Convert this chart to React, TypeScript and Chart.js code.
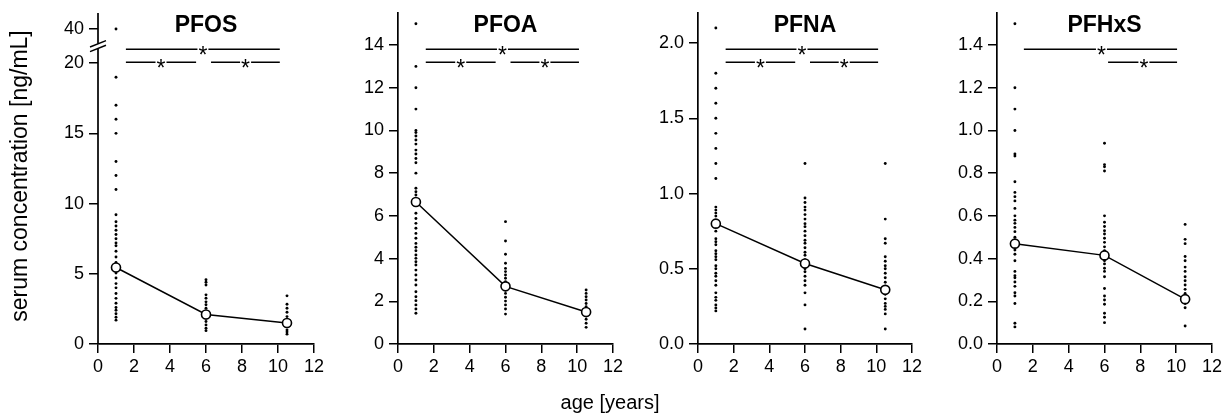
import React, { useEffect, useRef } from "react";
import { Chart, registerables } from "chart.js";
Chart.register(...registerables);

const FONT = '"Liberation Sans", Arial, Helvetica, sans-serif';

const TITLES = ["PFOS", "PFOA", "PFNA", "PFHxS"];
const AGES = [1, 6, 10.5];
const X_TICKS = [0, 2, 4, 6, 8, 10, 12];
const Y_TITLE = "serum concentration [ng/mL]";
const X_TITLE = "age [years]";

// PFOS (axis broken between 20 and 40)
const PFOS_AGE1 = [40, 19, 17, 16, 15, 13, 12, 11, 9.2, 8.7, 8.4, 8.1, 7.8, 7.5, 7.2, 7.0, 6.6, 6.2, 5.8, 5.6, 5.3, 5.05, 4.7, 4.3, 4.0, 3.6, 3.25, 2.9, 2.6, 2.4, 2.15, 1.9, 1.7];
const PFOS_AGE6 = [4.57, 4.4, 4.2, 3.5, 3.26, 3.0, 2.8, 2.55, 2.3, 2.2, 2.0, 1.83, 1.6, 1.36, 1.12, 0.95];
const PFOS_AGE10 = [3.43, 2.83, 2.55, 2.26, 1.95, 1.7, 1.4, 1.24, 1.0, 0.85, 0.7];
const PFOS_MEDIAN = [5.45, 2.1, 1.5];
const PFOS_Y_TICKS = [0, 5, 10, 15, 20, 40];
const PFOS_Y_LABELS = ["0", "5", "10", "15", "20", "40"];
const PFOS_BRACKETS = [[1.55, 10.1, 5.83, 21.0], [1.55, 5.45, 3.5, 20.07], [6.28, 10.1, 8.2, 20.07]];

// PFOA
const PFOA_AGE1 = [15, 13, 12, 11, 10, 9.9, 9.74, 9.55, 9.36, 9.08, 8.9, 8.69, 8.49, 8.0, 7.29, 7.13, 6.98, 6.82, 6.5, 6.12, 5.88, 5.65, 5.42, 5.18, 4.95, 4.71, 4.53, 4.37, 4.17, 4.01, 3.85, 3.7, 3.46, 3.23, 3.0, 2.76, 2.45, 2.21, 2.03, 1.83, 1.64, 1.44];
const PFOA_AGE6 = [5.73, 4.82, 4.2, 3.78, 3.54, 3.39, 3.23, 3.08, 2.92, 2.8, 2.6, 2.53, 2.37, 2.19, 2.01, 1.83, 1.64, 1.4];
const PFOA_AGE10 = [2.53, 2.37, 2.21, 2.06, 1.9, 1.75, 1.6, 1.4, 1.31, 1.16, 0.97, 0.78];
const PFOA_MEDIAN = [6.65, 2.7, 1.5];
const PFOA_Y_TICKS = [0, 2, 4, 6, 8, 10, 12, 14];
const PFOA_Y_LABELS = ["0", "2", "4", "6", "8", "10", "12", "14"];
const PFOA_BRACKETS = [[1.55, 10.1, 5.83, 13.81], [1.55, 5.45, 3.5, 13.2], [6.28, 10.1, 8.2, 13.2]];

// PFNA
const PFNA_AGE1 = [2.1, 1.8, 1.7, 1.6, 1.5, 1.4, 1.3, 1.2, 1.1, 0.91, 0.89, 0.87, 0.85, 0.82, 0.78, 0.75, 0.7, 0.68, 0.66, 0.62, 0.6, 0.58, 0.56, 0.52, 0.5, 0.47, 0.45, 0.42, 0.39, 0.34, 0.31, 0.29, 0.26, 0.24, 0.22];
const PFNA_AGE6 = [1.2, 0.97, 0.94, 0.91, 0.89, 0.86, 0.83, 0.8, 0.78, 0.75, 0.72, 0.69, 0.67, 0.64, 0.61, 0.59, 0.56, 0.52, 0.5, 0.48, 0.45, 0.42, 0.39, 0.34, 0.26, 0.1];
const PFNA_AGE10 = [1.2, 0.83, 0.7, 0.67, 0.58, 0.55, 0.52, 0.5, 0.47, 0.44, 0.41, 0.385, 0.33, 0.3, 0.27, 0.25, 0.23, 0.2, 0.1];
const PFNA_MEDIAN = [0.8, 0.535, 0.36];
const PFNA_Y_TICKS = [0, 0.5, 1.0, 1.5, 2.0];
const PFNA_Y_LABELS = ["0.0", "0.5", "1.0", "1.5", "2.0"];
const PFNA_BRACKETS = [[1.55, 10.1, 5.83, 1.96], [1.55, 5.45, 3.5, 1.874], [6.28, 10.1, 8.2, 1.874]];

// PFHxS
const PFHXS_AGE1 = [1.5, 1.2, 1.1, 1.0, 0.89, 0.88, 0.76, 0.71, 0.69, 0.67, 0.635, 0.6, 0.58, 0.565, 0.546, 0.526, 0.5, 0.44, 0.42, 0.39, 0.34, 0.32, 0.31, 0.29, 0.27, 0.24, 0.225, 0.19, 0.097, 0.08];
const PFHXS_AGE6 = [0.94, 0.84, 0.83, 0.81, 0.6, 0.57, 0.55, 0.53, 0.515, 0.495, 0.476, 0.455, 0.437, 0.39, 0.375, 0.355, 0.34, 0.315, 0.26, 0.225, 0.206, 0.186, 0.144, 0.125, 0.1];
const PFHXS_AGE10 = [0.56, 0.49, 0.47, 0.41, 0.39, 0.36, 0.34, 0.315, 0.296, 0.276, 0.256, 0.237, 0.19, 0.17, 0.084];
const PFHXS_MEDIAN = [0.47, 0.415, 0.21];
const PFHXS_Y_TICKS = [0, 0.2, 0.4, 0.6, 0.8, 1.0, 1.2, 1.4];
const PFHXS_Y_LABELS = ["0.0", "0.2", "0.4", "0.6", "0.8", "1.0", "1.2", "1.4"];
const PFHXS_BRACKETS = [[1.5, 10.05, 5.83, 1.381], [6.2, 10.05, 8.2, 1.32]];

// broken axis mapping for PFOS: linear up to 21, compressed above
const BREAK_START = 21;
const BREAK_COMPRESS = 1.43 / 19;
const BREAK_MARK = 21.21;
const identity = (v: number) => v;
const pfosMap = (v: number) => (v <= BREAK_START ? v : BREAK_START + (v - BREAK_START) * BREAK_COMPRESS);

const PANELS = [
  { title: TITLES[0], groups: [PFOS_AGE1, PFOS_AGE6, PFOS_AGE10], median: PFOS_MEDIAN, yTicks: PFOS_Y_TICKS, yLabels: PFOS_Y_LABELS, yMax: 23.57, brackets: PFOS_BRACKETS, map: pfosMap, broken: true, left: 98, right: 314 },
  { title: TITLES[1], groups: [PFOA_AGE1, PFOA_AGE6, PFOA_AGE10], median: PFOA_MEDIAN, yTicks: PFOA_Y_TICKS, yLabels: PFOA_Y_LABELS, yMax: 15.5, brackets: PFOA_BRACKETS, map: identity, broken: false, left: 398, right: 613 },
  { title: TITLES[2], groups: [PFNA_AGE1, PFNA_AGE6, PFNA_AGE10], median: PFNA_MEDIAN, yTicks: PFNA_Y_TICKS, yLabels: PFNA_Y_LABELS, yMax: 2.2, brackets: PFNA_BRACKETS, map: identity, broken: false, left: 698, right: 912 },
  { title: TITLES[3], groups: [PFHXS_AGE1, PFHXS_AGE6, PFHXS_AGE10], median: PFHXS_MEDIAN, yTicks: PFHXS_Y_TICKS, yLabels: PFHXS_Y_LABELS, yMax: 1.55, brackets: PFHXS_BRACKETS, map: identity, broken: false, left: 997, right: 1212 },
];

const W = 1222;
const H = 416;
const TOP = 13;
const BOTTOM = 344;
const Y_AXIS_W = 60;
const X_AXIS_H = 30;

function buildChart(canvas: HTMLCanvasElement, p: any, index: number) {
  const dots: any[] = [];
  p.groups.forEach((g: number[], gi: number) => g.forEach((v) => dots.push({ x: AGES[gi], y: p.map(v) })));
  const med = p.median.map((v: number, i: number) => ({ x: AGES[i], y: p.map(v) }));

  const decor = {
    id: "decor" + index,
    afterDraw(chart: any) {
      const ctx = chart.ctx;
      const xs = chart.scales.x;
      const ys = chart.scales.y;
      const a = chart.chartArea;
      ctx.save();
      ctx.fillStyle = "#000";
      ctx.strokeStyle = "#000";
      ctx.font = `bold 23px ${FONT}`;
      ctx.textAlign = "center";
      ctx.textBaseline = "alphabetic";
      ctx.fillText(p.title, (a.left + a.right) / 2, 32);

      ctx.lineWidth = 1.5;
      ctx.font = `23px ${FONT}`;
      for (const [x1, x2, xStar, yv] of p.brackets) {
        const px1 = xs.getPixelForValue(x1);
        const px2 = xs.getPixelForValue(x2);
        const pxs = xs.getPixelForValue(xStar);
        const py = Math.round(ys.getPixelForValue(p.map(yv))) + 0.25;
        ctx.beginPath();
        ctx.moveTo(px1, py);
        ctx.lineTo(pxs - 5.5, py);
        ctx.moveTo(pxs + 5.5, py);
        ctx.lineTo(px2, py);
        ctx.stroke();
        ctx.fillText("*", pxs, py + 14);
      }

      if (p.broken) {
        const x = a.left;
        const by = ys.getPixelForValue(BREAK_MARK);
        ctx.lineWidth = 1.7;
        ctx.beginPath();
        ctx.moveTo(x, a.bottom);
        ctx.lineTo(x, by + 2.5);
        ctx.moveTo(x, by - 2.5);
        ctx.lineTo(x, a.top);
        ctx.stroke();
        ctx.lineWidth = 1.5;
        for (const off of [-2.3, 2.3]) {
          ctx.beginPath();
          ctx.moveTo(x - 8, by + off + 3.2);
          ctx.lineTo(x + 8, by + off - 3.2);
          ctx.stroke();
        }
        // shared axis titles
        ctx.save();
        ctx.font = `23px ${FONT}`;
        ctx.textAlign = "center";
        ctx.textBaseline = "middle";
        ctx.translate(21, 176);
        ctx.rotate(-Math.PI / 2);
        ctx.fillText(Y_TITLE, 0, 0);
        ctx.restore();
        ctx.font = `20px ${FONT}`;
        ctx.textAlign = "center";
        ctx.textBaseline = "alphabetic";
        ctx.fillText(X_TITLE, 610, 409);
      }
      ctx.restore();
    },
  };

  return new Chart(canvas, {
    type: "scatter",
    data: {
      datasets: [
        {
          type: "line",
          data: med,
          order: 0,
          showLine: true,
          borderColor: "#000",
          borderWidth: 1.5,
          pointRadius: 4.5,
          pointBackgroundColor: "#fff",
          pointBorderColor: "#000",
          pointBorderWidth: 1.6,
          fill: false,
          tension: 0,
        },
        {
          data: dots,
          order: 1,
          pointRadius: 1.45,
          pointBackgroundColor: "#000",
          pointBorderWidth: 0,
          backgroundColor: "#000",
        },
      ],
    } as any,
    options: {
      animation: false,
      responsive: false,
      maintainAspectRatio: false,
      devicePixelRatio: 1,
      events: [],
      clip: false as any,
      layout: { padding: { left: p.left - Y_AXIS_W, right: W - p.right, top: TOP, bottom: H - BOTTOM - X_AXIS_H } },
      plugins: { legend: { display: false }, tooltip: { enabled: false }, title: { display: false } },
      scales: {
        x: {
          type: "linear",
          min: 0,
          max: 12,
          afterBuildTicks: (s: any) => { s.ticks = X_TICKS.map((v) => ({ value: v })); },
          afterFit: (s: any) => { s.height = X_AXIS_H; s.paddingLeft = 0; s.paddingRight = 0; },
          ticks: { color: "#000", font: { family: FONT, size: 18 }, padding: 3, maxRotation: 0, autoSkip: false },
          grid: { display: true, drawOnChartArea: false, drawTicks: true, tickLength: 9, color: "#000", lineWidth: 1.5 },
          border: { display: true, color: "#000", width: 1.7 },
        },
        y: {
          type: "linear",
          min: 0,
          max: p.yMax,
          afterBuildTicks: (s: any) => { s.ticks = p.yTicks.map((v: number) => ({ value: p.map(v) })); },
          afterFit: (s: any) => { s.width = Y_AXIS_W; s.paddingTop = 0; s.paddingBottom = 0; },
          ticks: {
            color: "#000",
            font: { family: FONT, size: 18 },
            padding: 5,
            autoSkip: false,
            callback: (_v: any, i: number) => p.yLabels[i],
          },
          grid: { display: true, drawOnChartArea: false, drawTicks: true, tickLength: 9, color: "#000", lineWidth: 1.5 },
          border: { display: !p.broken, color: "#000", width: 1.7 },
        },
      },
    } as any,
    plugins: [decor],
  });
}

export default function App() {
  const r0 = useRef<HTMLCanvasElement>(null);
  const r1 = useRef<HTMLCanvasElement>(null);
  const r2 = useRef<HTMLCanvasElement>(null);
  const r3 = useRef<HTMLCanvasElement>(null);
  const refs = [r0, r1, r2, r3];

  useEffect(() => {
    const charts = PANELS.map((p, i) => buildChart(refs[i].current as HTMLCanvasElement, p, i));
    return () => charts.forEach((c) => c.destroy());
  }, []);

  return (
    <div style={{ position: "absolute", left: 0, top: 0, width: W, height: H, background: "#fff" }}>
      {PANELS.map((p, i) => (
        <canvas
          key={p.title}
          ref={refs[i]}
          width={W}
          height={H}
          style={{ position: "absolute", left: 0, top: 0, width: W, height: H }}
        />
      ))}
    </div>
  );
}
